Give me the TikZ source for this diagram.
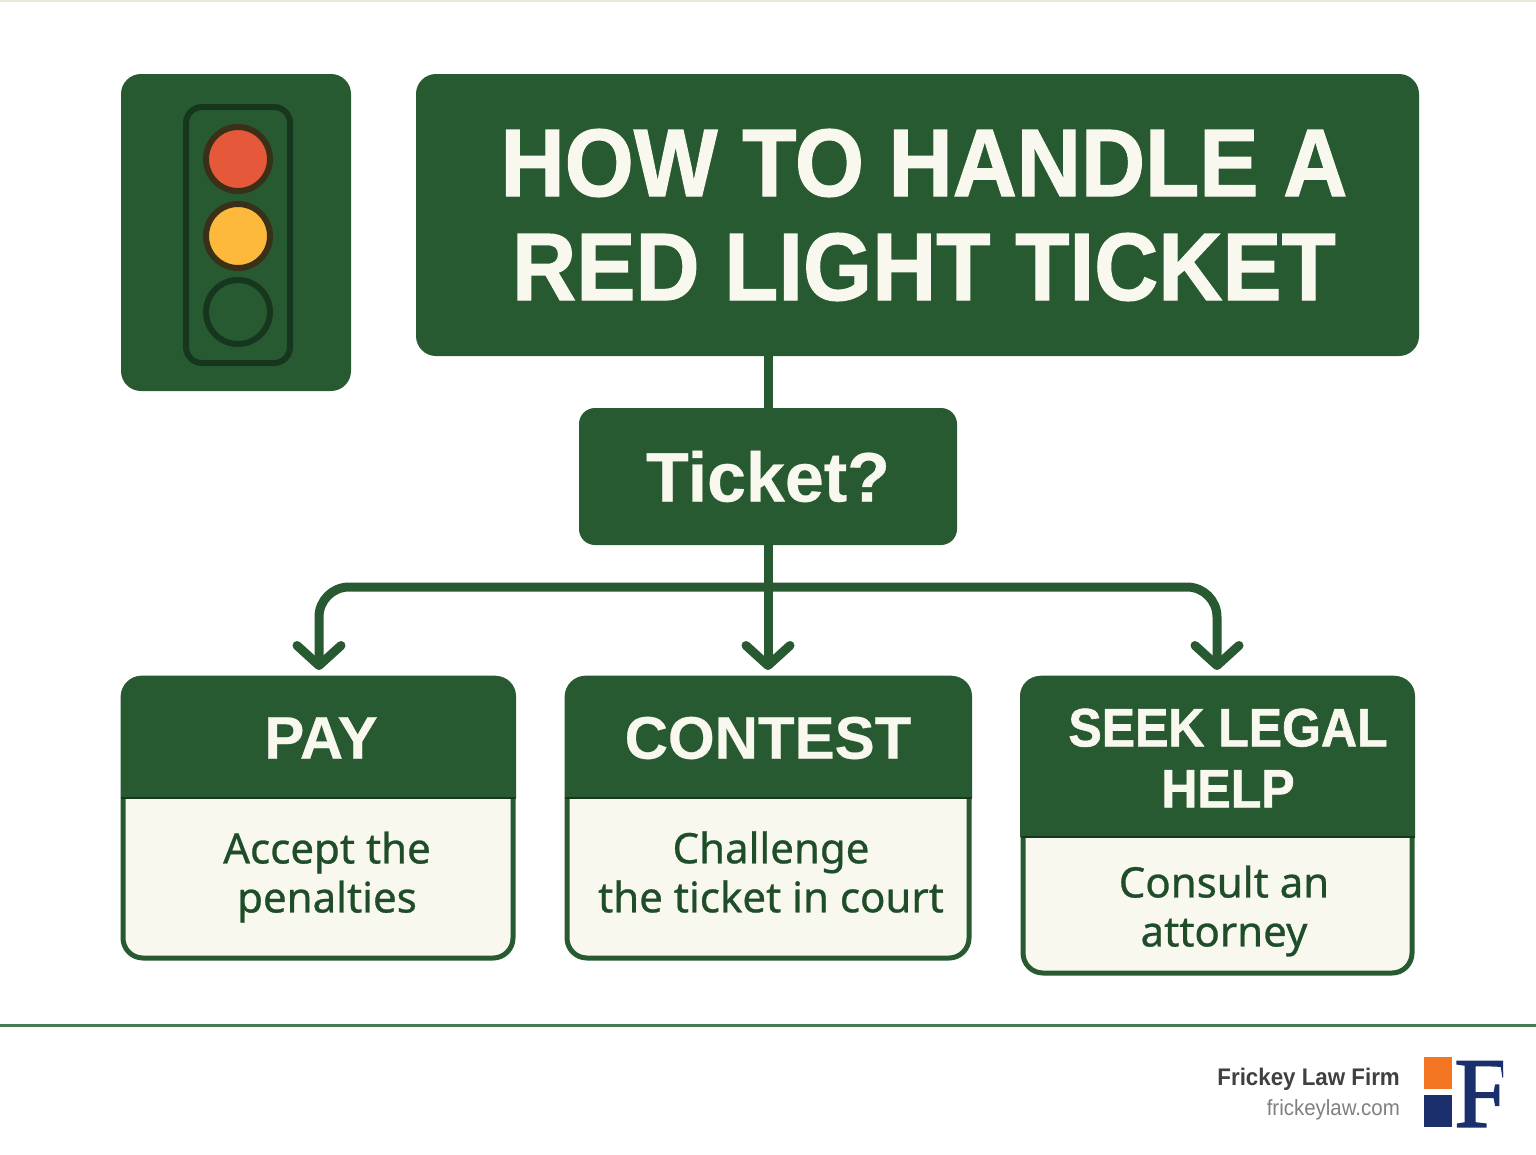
\documentclass[tikz,border=0pt]{standalone}
\usepackage{fontspec}
\usepackage{xcolor}
\setmainfont[FakeBold=0.4]{Liberation Sans}
\newfontfamily\titlefont[FakeStretch=0.925,FakeBold=1.2]{Liberation Sans Bold}
\newfontfamily\footfont[FakeStretch=0.93]{Liberation Sans}
\newfontfamily\bodyfont[FakeBold=0.7]{Noto Sans}
\newfontfamily\logofont[FakeBold=1.5]{Liberation Serif}
\usetikzlibrary{arrows.meta,positioning,shapes}
\definecolor{leaf}{HTML}{285A32}
\definecolor{cream}{HTML}{F9F8EE}
\definecolor{ink}{HTML}{1F4D2A}
\definecolor{rule}{HTML}{4A7A52}
\definecolor{edgeline}{HTML}{E8E8DC}
\definecolor{housing}{HTML}{16361E}
\definecolor{ring}{HTML}{3A3018}
\definecolor{redlight}{HTML}{E5583A}
\definecolor{amberlight}{HTML}{FDB93C}
\definecolor{logoorange}{HTML}{F47521}
\definecolor{logoblue}{HTML}{1A2F6B}

\begin{document}
\begin{tikzpicture}[x=1pt, y=-1pt, >={Straight Barb[length=20pt, width=44pt, line cap=round, line join=round]},
    panel/.style={fill=leaf, rounded corners=20pt, inner sep=0pt, align=center, text=cream, font=\bfseries},
    card/.style={draw=leaf, line width=5pt, fill=cream, rounded corners=20pt, inner sep=0pt, minimum width=390pt},
    head/.style={text=cream, font=\fontsize{60}{62}\selectfont\bfseries, align=center},
    note/.style={text=ink, font=\fontsize{42}{49}\selectfont\bodyfont, align=center},
    divider/.style={draw=housing, line width=1.5pt},
    lamp/.style={circle, inner sep=0pt, minimum size=64pt, line width=6pt},
    link/.style={draw=leaf, line width=9pt, rounded corners=30pt}]
      \useasboundingbox (0,0) rectangle (1536,1154);
      \fill[white] (0,0) rectangle (1536,1154);
      \fill[edgeline] (0,0) rectangle (1536,2);

      % top row
      \node[panel, minimum width=230pt, minimum height=317pt] (signal) at (236,232.5) {};
      \node[draw=housing, line width=6pt, rounded corners=16pt, inner sep=0pt, minimum width=104pt, minimum height=256pt] (housing) at (238,235) {};
      \node[lamp, draw=ring, fill=redlight] (redlamp) at (238,159) {};
      \node[lamp, draw=ring, fill=amberlight] (amberlamp) at (238,236) {};
      \node[lamp, draw=housing] (darklamp) at (238,312) {};
      \node[panel, minimum width=1003pt, minimum height=282pt] (title) at (917.5,215) {};
      \node[text=cream, align=center, font=\fontsize{96}{104}\selectfont\titlefont] (titletext) at (924,215) {HOW TO HANDLE A\\RED LIGHT TICKET};

      \node[panel, rounded corners=16pt, minimum width=378pt, minimum height=137pt, font=\fontsize{70}{72}\selectfont\bfseries] (ticket) at (768,476.5) {\raisebox{-2pt}{Ticket?}};

      % cards
      \node[card, minimum height=280pt] (paycard) at (318,818) {};
      \fill[leaf] (121,798) [rounded corners=20pt] -- (121,676) -- (516,676) [sharp corners] -- (516,798) -- cycle;
      \draw[divider] (paycard.west |- 0,798) -- (paycard.east |- 0,798);
      \node[head] (pay) at (321,738) {PAY};
      \node[note] (paytext) at (327,877) {Accept the\\penalties};

      \node[card, minimum width=402pt, minimum height=280pt] (contestcard) at (768,818) {};
      \fill[leaf] (565,798) [rounded corners=20pt] -- (565,676) -- (972,676) [sharp corners] -- (972,798) -- cycle;
      \draw[divider] (contestcard.west |- 0,798) -- (contestcard.east |- 0,798);
      \node[head] (contest) at (768,738) {CONTEST};
      \node[note] (contesttext) at (771,872) {Challenge\\the ticket in court};

      \node[card, minimum width=389pt, minimum height=295pt] (legalcard) at (1217.5,825.5) {};
      \fill[leaf] (1020,837) [rounded corners=20pt] -- (1020,676) -- (1415,676) [sharp corners] -- (1415,837) -- cycle;
      \draw[divider] (legalcard.west |- 0,837) -- (legalcard.east |- 0,837);
      \node[head, font=\fontsize{54}{61}\selectfont\titlefont] (legal) at (1228,758) {SEEK LEGAL\\HELP};
      \node[note] (legaltext) at (1224,911) {Consult an\\attorney};

      % connectors
      \coordinate (bus) at (768,587);
      \coordinate (payend) at (319,670);
      \coordinate (contestend) at (768,670);
      \coordinate (legalend) at (1217,670);
      \draw[link] (title.south -| ticket.north) -- (ticket.north);
      \draw[link, ->] (ticket) -- (contestend);
      \draw[link, ->] (bus) -| (payend);
      \draw[link, ->] (bus) -| (legalend);

      % footer
      \coordinate (ruleleft) at (0,1025);
      \coordinate (ruleright) at (1536,1025);
      \draw[rule, line width=3pt] (ruleleft) -- (ruleright);
      \node[anchor=east, inner sep=0pt, text=black!75, font=\fontsize{24}{24}\selectfont\footfont\bfseries] (firm) at (1400,1079) {Frickey Law Firm};
      \node[anchor=east, inner sep=0pt, text=black!50, font=\fontsize{22}{22}\selectfont\footfont] (site) at (1400,1110) {frickeylaw.com};
      \fill[logoorange] (1424,1057) rectangle (1452,1089);
      \fill[logoblue] (1424,1095) rectangle (1452,1127);
      \begin{scope}
        \clip (1453,1050) rectangle (1503,1135);
        \node[anchor=west, inner sep=0pt, text=logoblue, font=\fontsize{100}{100}\selectfont\logofont] (logo) at (1454,1094) {F};
      \end{scope}
\end{tikzpicture}
\end{document}
